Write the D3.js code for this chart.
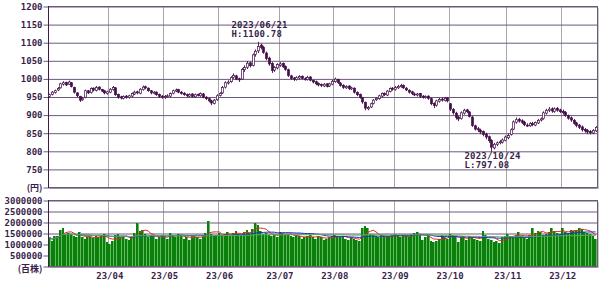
<!DOCTYPE html>
<html>
<head>
<meta charset="utf-8">
<script src="https://cdn.jsdelivr.net/npm/d3@7/dist/d3.min.js"></script>
<style>
  body { margin: 0; background: #fff; }
  svg { display: block; }
  text { font-family: "DejaVu Sans Mono", monospace; font-weight: bold; font-size: 9px; fill: #3a1f4a; }
  .cjk { font-family: "Noto Sans CJK JP", sans-serif; font-size: 9px; }
</style>
</head>
<body>
<svg id="chart" width="600" height="286"></svg>
<script>
// months shown and number of trading days in each
var monthLabels = ["23/03", "23/04", "23/05", "23/06", "23/07", "23/08", "23/09", "23/10", "23/11", "23/12"];
var monthDays = [22, 20, 20, 22, 20, 22, 20, 21, 20, 13];

// daily prices, one line per month
var opens = [
  950, 956, 961, 968, 974, 984, 989, 984, 988, 975, 960, 950, 941, 948, 966, 961, 973, 967, 976, 969, 966, 958,
  962, 969, 974, 956, 949, 945, 951, 947, 951, 957, 963, 959, 969, 977, 973, 966, 959, 962, 956, 951,
  947, 951, 951, 959, 965, 969, 962, 959, 955, 951, 957, 949, 956, 952, 957, 948, 944, 938, 931, 941,
  953, 960, 976, 987, 991, 1003, 1007, 999, 998, 1024, 1031, 1043, 1036, 1066, 1076, 1092, 1086, 1070, 1056, 1041, 1023, 1029,
  1036, 1041, 1033, 1024, 1007, 1001, 997, 1001, 1006, 999, 997, 1004, 994, 991, 986, 983, 979, 985, 979, 984,
  991, 997, 987, 981, 974, 979, 971, 973, 961, 956, 947, 934, 916, 921, 931, 941, 944, 951, 959, 954, 964, 973,
  969, 974, 977, 981, 973, 967, 963, 957, 954, 958, 951, 947, 951, 944, 931, 926, 937, 943, 939, 946,
  930, 914, 904, 893, 889, 904, 913, 907, 893, 869, 861, 857, 853, 846, 839, 829, 808, 817, 823, 824, 829,
  836, 845, 860, 879, 887, 883, 879, 871, 869, 876, 871, 877, 885, 889, 904, 911, 916, 909, 917, 913,
  909, 906, 897, 891, 884, 877, 871, 866, 859, 856, 853, 849, 855
];
var highs = [
  958, 965, 969, 976, 988, 992, 991, 994, 990, 977, 962, 952, 949, 969, 968, 975, 975, 979, 978, 971, 968, 966,
  973, 979, 976, 958, 952, 953, 954, 955, 961, 966, 966, 973, 980, 980, 975, 968, 965, 964, 958, 954,
  954, 956, 961, 969, 972, 971, 965, 962, 958, 959, 959, 958, 958, 961, 960, 951, 947, 941, 943, 956,
  962, 979, 992, 995, 1006, 1014, 1010, 1002, 1029, 1036, 1048, 1046, 1069, 1080, 1100.78, 1096, 1090, 1074, 1060, 1045, 1034, 1042,
  1045, 1044, 1036, 1027, 1010, 1004, 1006, 1009, 1008, 1003, 1007, 1006, 997, 994, 989, 986, 987, 987, 988, 996,
  1002, 999, 990, 984, 981, 981, 977, 975, 964, 958, 949, 936, 924, 933, 943, 948, 955, 961, 961, 968, 975, 976,
  979, 982, 985, 983, 976, 970, 966, 961, 960, 960, 954, 953, 953, 947, 934, 941, 946, 947, 949, 948,
  932, 918, 908, 896, 909, 916, 916, 910, 896, 872, 866, 861, 856, 850, 842, 832, 822, 826, 830, 834, 842,
  848, 862, 884, 892, 891, 887, 883, 876, 879, 880, 881, 888, 892, 909, 916, 921, 920, 920, 921, 916,
  914, 910, 900, 895, 888, 880, 874, 870, 863, 860, 857, 860, 868
];
var lows = [
  946, 953, 958, 965, 972, 980, 979, 982, 975, 958, 948, 935, 938, 945, 957, 958, 964, 964, 967, 962, 956, 955,
  959, 966, 952, 944, 942, 942, 944, 944, 948, 954, 956, 956, 966, 970, 963, 956, 956, 952, 946, 944,
  943, 947, 948, 956, 962, 959, 955, 952, 948, 948, 947, 946, 950, 949, 945, 940, 934, 926, 928, 938,
  950, 957, 972, 983, 988, 999, 995, 990, 996, 1018, 1026, 1030, 1033, 1060, 1070, 1080, 1068, 1050, 1035, 1015, 1018, 1025,
  1032, 1029, 1021, 1004, 996, 993, 994, 997, 997, 994, 994, 992, 986, 981, 978, 976, 976, 975, 976, 981,
  988, 985, 977, 971, 971, 968, 968, 958, 951, 944, 930, 912, 912, 918, 928, 938, 941, 948, 951, 951, 961, 966,
  966, 971, 974, 971, 965, 958, 954, 951, 950, 946, 944, 944, 941, 926, 918, 922, 933, 936, 936, 934,
  910, 900, 886, 882, 886, 900, 904, 892, 866, 856, 852, 846, 840, 832, 822, 797.08, 804, 813, 818, 820, 826,
  832, 842, 857, 875, 878, 874, 868, 866, 866, 868, 868, 874, 881, 886, 900, 907, 905, 905, 908, 904,
  900, 894, 886, 880, 872, 865, 860, 853, 850, 846, 845, 846, 852
];
var closes = [
  955, 962, 966, 972, 985, 988, 982, 990, 978, 962, 952, 940, 945, 966, 960, 972, 968, 975, 970, 965, 960, 963,
  970, 975, 955, 948, 946, 950, 948, 952, 958, 962, 960, 970, 976, 974, 966, 960, 962, 955, 950, 948,
  950, 952, 958, 966, 968, 962, 958, 955, 952, 956, 950, 955, 953, 958, 948, 944, 938, 932, 940, 952,
  958, 975, 988, 990, 1002, 1008, 998, 996, 1025, 1030, 1042, 1035, 1065, 1075, 1088, 1085, 1072, 1055, 1040, 1022, 1030, 1038,
  1040, 1032, 1025, 1008, 1000, 998, 1002, 1005, 1000, 998, 1003, 995, 990, 985, 982, 980, 984, 978, 985, 992,
  998, 988, 980, 975, 978, 972, 974, 962, 955, 948, 935, 918, 920, 930, 940, 945, 952, 958, 955, 965, 972, 970,
  975, 978, 980, 974, 968, 962, 958, 955, 957, 950, 948, 950, 945, 930, 925, 938, 942, 940, 945, 938,
  915, 905, 892, 888, 905, 912, 908, 895, 870, 860, 858, 852, 845, 838, 828, 810, 818, 822, 825, 830, 838,
  842, 858, 880, 886, 882, 878, 872, 870, 875, 872, 878, 884, 888, 905, 912, 915, 910, 916, 912, 908,
  905, 898, 890, 885, 876, 870, 865, 858, 855, 852, 850, 856, 865
];

// daily volume (thousands of shares as plotted)
var volumes = [
  1300, 1150, 1350, 1380, 1650, 1750, 1450, 1500, 1400, 1350, 1300, 1550, 1300, 1250, 1300, 1320, 1280, 1350, 1300, 1420, 1450, 1100,
  1000, 1150, 1400, 1450, 1300, 1350, 1250, 1200, 1300, 1500, 1950, 1600, 1650, 1450, 1300, 1400, 1350, 1250, 1300, 1400,
  1350, 1250, 1500, 1400, 1300, 1450, 1350, 1250, 1300, 1200, 1400, 1350, 1300, 1250, 1400, 1500, 2050, 1450, 1350, 1400,
  1500, 1400, 1450, 1550, 1350, 1500, 1600, 1450, 1400, 1550, 1650, 1500, 1700, 1950, 1850, 1600, 1450, 1500, 1400, 1350, 1450, 1300,
  1550, 1500, 1400, 1450, 1350, 1300, 1400, 1350, 1250, 1300, 1350, 1400, 1300, 1250, 1350, 1300, 1200, 1250, 1300, 1350,
  1400, 1350, 1300, 1350, 1250, 1200, 1300, 1250, 1200, 1150, 1750, 1800, 1750, 1450, 1400, 1350, 1300, 1400, 1350, 1300, 1350, 1400,
  1450, 1350, 1300, 1400, 1350, 1300, 1450, 1500, 1550, 1450, 1200, 1300, 1400, 1150, 1100, 1150, 1250, 1400, 1300, 1250,
  1450, 1400, 1350, 1100, 1300, 1350, 1200, 1350, 1300, 1250, 1200, 1150, 1600, 1400, 1250, 1200, 1100, 1150, 1050, 1300, 1350,
  1450, 1350, 1300, 1400, 1550, 1350, 1300, 1250, 1400, 1750, 1500, 1600, 1550, 1400, 1450, 1550, 1750, 1600, 1500, 1450,
  1750, 1550, 1500, 1650, 1600, 1650, 1750, 1700, 1550, 1500, 1450, 1350, 1250
];

// axis ticks
var priceTicks = [700, 750, 800, 850, 900, 950, 1000, 1050, 1100, 1150, 1200];
var volumeTicks = [0, 500000, 1000000, 1500000, 2000000, 2500000, 3000000];
var highDate = "2023/06/21";
var lowDate = "2023/10/24";

// moving averages of volume: red, blue, green
var maSpans = [5, 25, 75];
var maColors = ["#e02828", "#1c2fd0", "#5cae5c"];

// layout
var left = 48, right = 597;
var priceTop = 6, priceBottom = 187;
var volTop = 200, volBottom = 266;
var ink = "#3a1f4a";
var candleInk = "#44104a";
var gridH = "#6b5a78";
var gridV = "#a8a8a8";

var n = closes.length;
var monthStarts = monthDays.map(function(d, i) {
  return d3.sum(monthDays.slice(0, i));
});

var svg = d3.select("#chart");

var x = d3.scaleBand().domain(d3.range(n)).range([left, right]);
var bw = x.bandwidth();
var yPrice = d3.scaleLinear().domain([700, 1200]).range([priceBottom, priceTop]);
var yVol = d3.scaleLinear().domain([0, 3000000]).range([volBottom, volTop]);

function cx(i) {
  return Math.round(x(i) + bw / 2) + 0.5;
}

// panel shadows
[[priceTop, priceBottom], [volTop, volBottom]].forEach(function(p) {
  svg.append("rect")
    .attr("x", left + 2).attr("y", p[0] + 2)
    .attr("width", right - left).attr("height", p[1] - p[0])
    .attr("fill", "#c8c8c8");
  svg.append("rect")
    .attr("x", left).attr("y", p[0])
    .attr("width", right - left).attr("height", p[1] - p[0])
    .attr("fill", "#fff");
});

// month grid lines
var monthGrid = monthStarts.slice(1);
[[priceTop, priceBottom], [volTop, volBottom]].forEach(function(p) {
  svg.append("g").selectAll("line")
    .data(monthGrid)
    .enter().append("line")
    .attr("x1", function(d) { return Math.round(x(d)) + 0.5; })
    .attr("x2", function(d) { return Math.round(x(d)) + 0.5; })
    .attr("y1", p[0]).attr("y2", p[1])
    .attr("stroke", gridV);
});

// price axis with grid
var priceAxis = svg.append("g")
  .attr("transform", "translate(43.5,0.5)")
  .call(d3.axisLeft(yPrice)
    .tickValues(priceTicks)
    .tickSize(-(right - 43))
    .tickPadding(1)
    .tickFormat(function(d) { return d === 700 ? "(円)" : d; }));
priceAxis.select(".domain").remove();
priceAxis.selectAll(".tick line").attr("stroke", gridH);
priceAxis.selectAll(".tick text")
  .attr("class", function(d) { return d === 700 ? "cjk" : null; })
  .style("fill", ink);

// volume axis with grid
var volAxis = svg.append("g")
  .attr("transform", "translate(43.5,0.5)")
  .call(d3.axisLeft(yVol)
    .tickValues(volumeTicks)
    .tickSize(-(right - 43))
    .tickPadding(1)
    .tickFormat(function(d) { return d === 0 ? "(百株)" : d; }));
volAxis.select(".domain").remove();
volAxis.selectAll(".tick line").attr("stroke", gridH);
volAxis.selectAll(".tick text")
  .attr("class", function(d) { return d === 0 ? "cjk" : null; })
  .attr("dy", function(d) { return d === 0 ? "0.5em" : "0.32em"; })
  .style("fill", ink);

// volume bars: light band behind, dark bar in front
var vbars = svg.append("g").selectAll("g")
  .data(volumes)
  .enter().append("g")
  .attr("shape-rendering", "crispEdges");
vbars.append("rect")
  .attr("x", function(d, i) { return Math.round(x(i)); })
  .attr("width", function(d, i) { return Math.round(x(i) + bw) - Math.round(x(i)); })
  .attr("y", function(d) { return Math.round(yVol(d * 1000)); })
  .attr("height", function(d) { return volBottom - Math.round(yVol(d * 1000)); })
  .attr("fill", "#62bb62");
vbars.append("rect")
  .attr("x", function(d, i) { return Math.round(x(i)); })
  .attr("width", 2)
  .attr("y", function(d) { return Math.round(yVol(d * 1000)); })
  .attr("height", function(d) { return volBottom - Math.round(yVol(d * 1000)); })
  .attr("fill", "#0a800a");

// moving averages
maSpans.forEach(function(span, k) {
  var ma = volumes.map(function(v, i) {
    return d3.mean(volumes.slice(Math.max(0, i - span + 1), i + 1)) * 1000;
  });
  svg.append("path")
    .datum(ma)
    .attr("fill", "none")
    .attr("stroke", maColors[k])
    .attr("stroke-width", 1)
    .attr("d", d3.line()
      .x(function(d, i) { return x(i) + bw / 2; })
      .y(function(d) { return yVol(d); }));
});

// panel frames
[[priceTop, priceBottom], [volTop, volBottom]].forEach(function(p) {
  svg.append("rect")
    .attr("x", left + 0.5).attr("y", p[0] + 0.5)
    .attr("width", right - left).attr("height", p[1] - p[0])
    .attr("fill", "none")
    .attr("stroke", gridH);
});
svg.append("line")
  .attr("x1", left + 0.5).attr("x2", left + 0.5)
  .attr("y1", priceTop).attr("y2", priceBottom + 1)
  .attr("stroke", ink);
svg.append("line")
  .attr("x1", left + 0.5).attr("x2", left + 0.5)
  .attr("y1", volTop).attr("y2", volBottom + 1)
  .attr("stroke", ink);

// candlesticks
var candles = svg.append("g").selectAll("g")
  .data(closes)
  .enter().append("g");
candles.append("line")
  .attr("x1", function(d, i) { return cx(i); })
  .attr("x2", function(d, i) { return cx(i); })
  .attr("y1", function(d, i) { return yPrice(highs[i]); })
  .attr("y2", function(d, i) { return yPrice(lows[i]); })
  .attr("stroke", candleInk)
  .attr("stroke-width", 0.9);
candles.append("rect")
  .attr("x", function(d, i) { return cx(i) - 1; })
  .attr("width", 2)
  .attr("y", function(d, i) { return yPrice(Math.max(opens[i], d)); })
  .attr("height", function(d, i) {
    return Math.max(1, Math.abs(yPrice(opens[i]) - yPrice(d)));
  })
  .attr("fill", function(d, i) { return d >= opens[i] ? "#fff" : candleInk; })
  .attr("stroke", candleInk)
  .attr("stroke-width", 0.7);

// month labels
var monthAxis = svg.append("g")
  .attr("transform", "translate(0," + volBottom + ")")
  .call(d3.axisBottom(x)
    .tickValues(monthGrid)
    .tickSize(0)
    .tickPadding(7)
    .tickFormat(function(d) { return monthLabels[monthStarts.indexOf(d)]; }));
monthAxis.select(".domain").remove();
monthAxis.selectAll("text").style("fill", ink);

// high / low notes
var hi = d3.maxIndex(highs);
var lo = d3.minIndex(lows);
var notes = [
  { i: hi, lines: [highDate, "H:" + d3.format(".2f")(highs[hi])], y: yPrice(highs[hi]) - 14 },
  { i: lo, lines: [lowDate, "L:" + d3.format(".2f")(lows[lo])], y: yPrice(lows[lo]) + 7 }
];
notes.forEach(function(nt) {
  nt.lines.forEach(function(t, j) {
    svg.append("text")
      .attr("x", cx(nt.i) - 27)
      .attr("y", nt.y + j * 9)
      .style("letter-spacing", "0.2px")
      .text(t);
  });
});
</script>
</body>
</html>
